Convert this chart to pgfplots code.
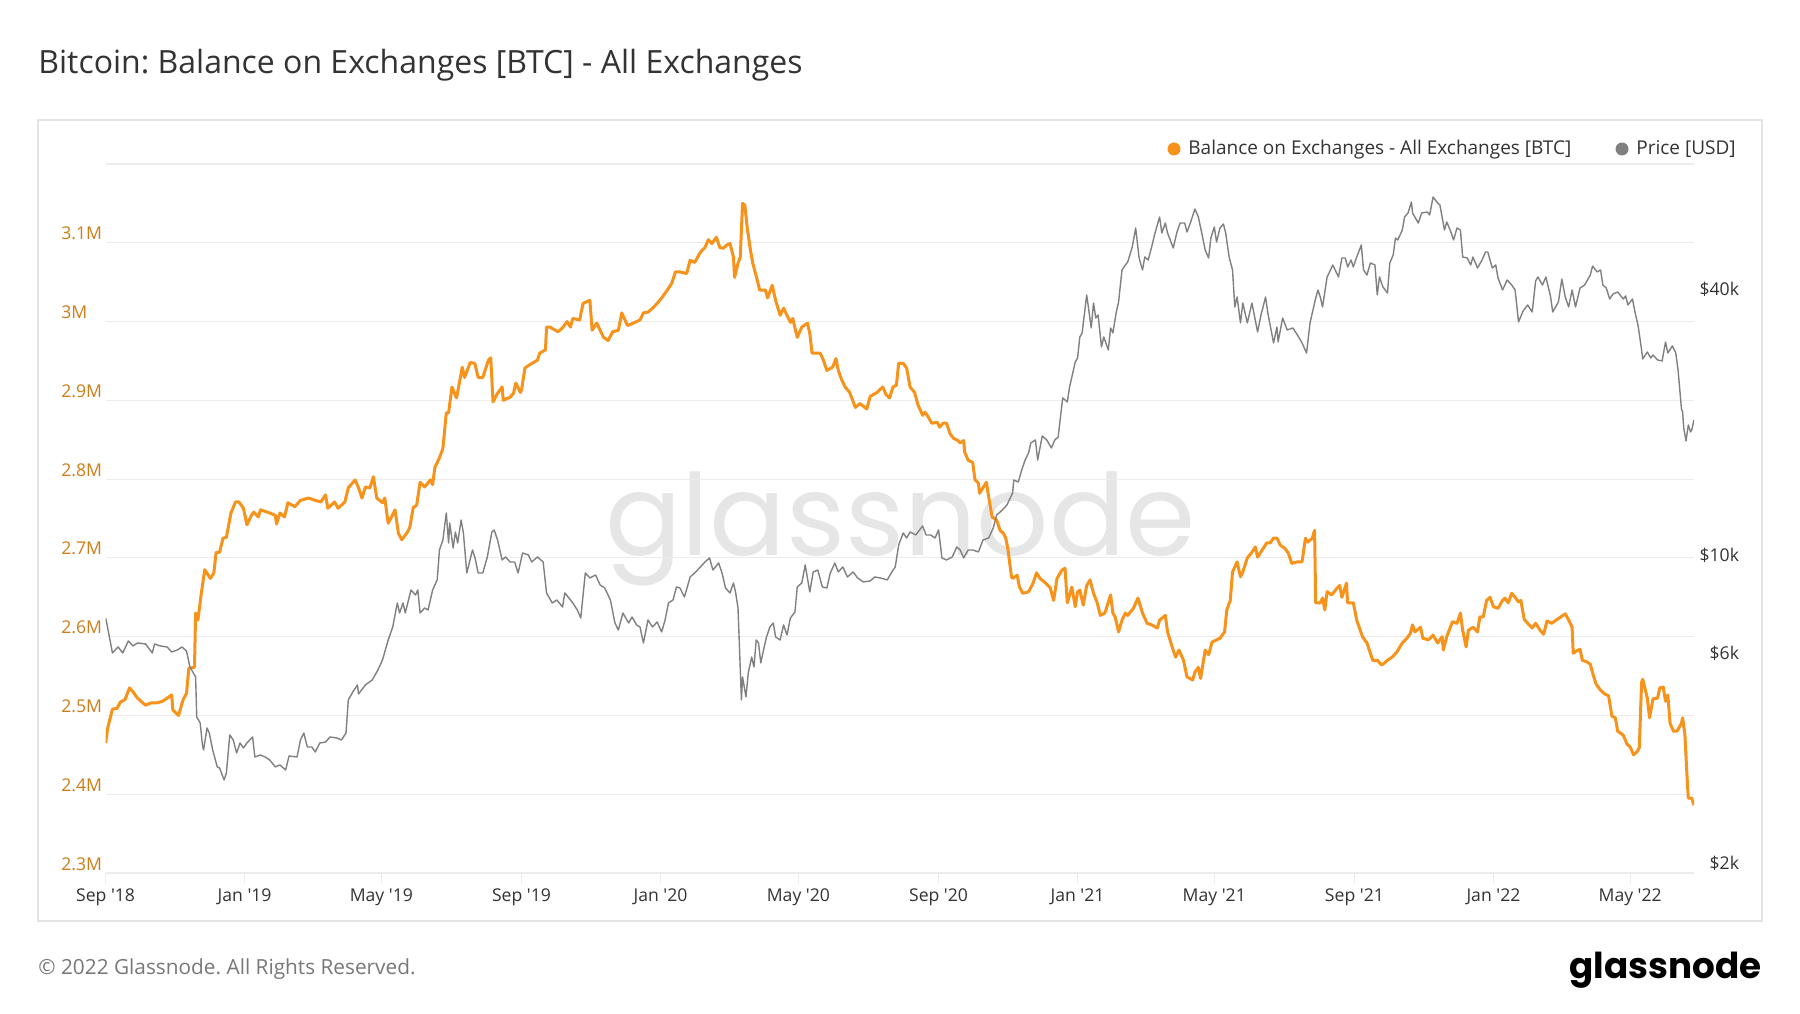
\documentclass[border=0pt]{standalone}
\usepackage{fontspec}
\setmainfont{Open Sans}
\newfontfamily\logofont{Poppins}
\usepackage{pgfplots}
\pgfplotsset{compat=1.18}
\frenchspacing
\definecolor{btc}{RGB}{247,147,26}
\definecolor{pricegray}{RGB}{128,128,128}
\definecolor{gridc}{RGB}{236,236,236}
\definecolor{framec}{RGB}{228,228,228}
\definecolor{lefttick}{RGB}{207,125,25}
\definecolor{txt}{RGB}{51,51,51}
\definecolor{foot}{RGB}{120,120,120}
\definecolor{wmark}{RGB}{230,230,230}
\begin{document}
\begin{tikzpicture}
\begin{scope}[x=0.5pt,y=0.5pt]
\path[use as bounding box, fill=white] (0,0) rectangle (1800,1013);
\draw[framec, line width=0.8pt] (38,92) rectangle (1762,893);
\node[anchor=base west, inner sep=0pt, text=wmark] at (605,458) {\resizebox{295pt}{!}{\logofont glassnode}};
\end{scope}
\begin{axis}[
  at={(52.8pt,70pt)}, anchor=south west,
  scale only axis, width=794.2pt, height=354.5pt,
  xmin=0, xmax=1394, ymin=2.3, ymax=3.2,
  axis line style={draw=none},
  ytick={2.3,2.4,2.5,2.6,2.7,2.8,2.9,3.0,3.1,3.2},
  yticklabels={2.3M,2.4M,2.5M,2.6M,2.7M,2.8M,2.9M,3M,3.1M,{}},
  ymajorgrids, grid style={gridc, line width=0.6pt},
  xtick={0,122,242,365,487,608,731,853,973,1096,1218,1338},
  xticklabels={Sep \textquotesingle18, Jan \textquotesingle19, May \textquotesingle19, Sep \textquotesingle19, Jan \textquotesingle20, May \textquotesingle20, Sep \textquotesingle20, Jan \textquotesingle21, May \textquotesingle21, Sep \textquotesingle21, Jan \textquotesingle22, May \textquotesingle22},
  xtick pos=bottom, ytick pos=left,
  tick align=outside, major tick length=5pt,
  xtick style={draw=gridc, line width=0.6pt},
  ytick style={draw=none},
  tick label style={font=\fontsize{8.8}{10}\selectfont},
  yticklabel style={anchor=base west, inner sep=0pt, xshift=-17.3pt, yshift=1.5pt, text=lefttick},
  xticklabel style={anchor=base, inner sep=0pt, yshift=-9.2pt, text=txt},
]
\addplot[btc, line width=1.5pt, line join=round] coordinates {
(0,2.465)(2,2.485)(6,2.508)(10,2.509)(13,2.517)(17,2.520)(21,2.535)(24,2.530)(28,2.522)(35,2.513)(40,2.516)(45,2.516)(50,2.518)(58,2.526)(59,2.507)(64,2.500)(68,2.520)(71,2.528)(73,2.560)(78,2.561)(79,2.630)(81,2.621)(84,2.655)(87,2.685)(92,2.674)(95,2.681)(97,2.707)(100,2.707)(103,2.725)(106,2.726)(110,2.757)(114,2.771)(117,2.771)(121,2.763)(124,2.742)(128,2.754)(130,2.758)(134,2.752)(136,2.761)(144,2.757)(149,2.754)(150,2.743)(153,2.757)(157,2.752)(160,2.770)(166,2.765)(171,2.773)(178,2.776)(184,2.773)(189,2.771)(193,2.780)(195,2.763)(201,2.771)(204,2.763)(210,2.771)(213,2.789)(219,2.799)(222,2.789)(225,2.776)(228,2.790)(232,2.789)(235,2.803)(238,2.776)(243,2.770)(245,2.776)(248,2.744)(251,2.752)(254,2.761)(257,2.731)(260,2.723)(265,2.733)(267,2.739)(270,2.764)(273,2.767)(276,2.796)(280,2.790)(285,2.799)(287,2.793)(289,2.815)(293,2.827)(296,2.839)(299,2.884)(301,2.884)(304,2.917)(308,2.903)(313,2.942)(315,2.929)(320,2.948)(324,2.947)(327,2.929)(331,2.929)(336,2.951)(338,2.954)(340,2.898)(344,2.909)(348,2.917)(349,2.900)(355,2.904)(358,2.909)(360,2.922)(364,2.910)(365,2.913)(368,2.941)(372,2.945)(379,2.951)(381,2.960)(386,2.964)(387,2.993)(390,2.993)(397,2.987)(401,2.992)(405,3.000)(408,2.993)(410,3.004)(416,3.002)(419,3.023)(425,3.027)(427,2.989)(431,2.998)(437,2.980)(441,2.976)(445,2.987)(450,2.989)(453,3.011)(458,2.995)(463,2.998)(469,3.002)(472,3.011)(476,3.012)(480,3.017)(484,3.023)(488,3.030)(493,3.040)(497,3.049)(500,3.063)(504,3.063)(510,3.061)(513,3.078)(517,3.075)(522,3.088)(526,3.094)(529,3.104)(532,3.099)(536,3.107)(539,3.094)(542,3.093)(545,3.097)(548,3.099)(551,3.082)(552,3.056)(555,3.074)(557,3.082)(559,3.150)(561,3.148)(563,3.120)(566,3.090)(568,3.074)(572,3.052)(574,3.040)(579,3.040)(581,3.030)(585,3.046)(588,3.027)(592,3.008)(595,3.017)(601,2.999)(603,3.004)(607,2.980)(611,2.993)(616,2.998)(618,2.985)(620,2.960)(627,2.960)(630,2.951)(633,2.938)(638,2.942)(641,2.953)(643,2.938)(646,2.926)(649,2.917)(653,2.910)(658,2.891)(662,2.896)(668,2.889)(671,2.905)(677,2.910)(682,2.917)(685,2.907)(688,2.903)(691,2.917)(694,2.919)(696,2.947)(700,2.947)(703,2.941)(706,2.917)(710,2.910)(713,2.894)(717,2.881)(719,2.885)(722,2.879)(725,2.871)(730,2.872)(732,2.866)(735,2.871)(738,2.871)(741,2.858)(744,2.852)(748,2.849)(750,2.846)(753,2.849)(754,2.834)(757,2.824)(761,2.821)(763,2.799)(766,2.795)(767,2.782)(773,2.796)(774,2.786)(778,2.752)(782,2.748)(785,2.735)(788,2.731)(790,2.725)(792,2.710)(795,2.676)(796,2.674)(800,2.678)(802,2.663)(805,2.655)(810,2.657)(814,2.668)(817,2.681)(820,2.674)(825,2.668)(829,2.662)(832,2.646)(835,2.674)(839,2.684)(842,2.687)(844,2.643)(848,2.663)(851,2.638)(853,2.657)(855,2.659)(858,2.640)(861,2.665)(864,2.672)(867,2.655)(870,2.644)(873,2.627)(877,2.630)(882,2.653)(884,2.630)(886,2.625)(889,2.606)(892,2.621)(895,2.630)(897,2.627)(902,2.636)(906,2.649)(910,2.630)(914,2.617)(918,2.615)(923,2.611)(925,2.621)(930,2.627)(932,2.606)(936,2.587)(939,2.574)(942,2.583)(946,2.570)(949,2.549)(954,2.545)(956,2.555)(959,2.561)(961,2.547)(965,2.583)(968,2.577)(971,2.593)(975,2.596)(978,2.598)(982,2.606)(984,2.634)(987,2.646)(989,2.682)(993,2.695)(996,2.676)(998,2.682)(1002,2.700)(1006,2.707)(1009,2.714)(1011,2.701)(1015,2.710)(1019,2.719)(1022,2.719)(1025,2.725)(1028,2.725)(1031,2.716)(1035,2.712)(1038,2.706)(1041,2.693)(1046,2.695)(1050,2.695)(1053,2.725)(1055,2.720)(1059,2.725)(1061,2.735)(1062,2.643)(1066,2.643)(1068,2.649)(1070,2.634)(1072,2.657)(1076,2.653)(1081,2.662)(1083,2.665)(1085,2.650)(1089,2.668)(1090,2.643)(1095,2.643)(1098,2.621)(1103,2.600)(1107,2.592)(1112,2.570)(1116,2.570)(1120,2.564)(1125,2.570)(1129,2.574)(1133,2.580)(1138,2.592)(1142,2.598)(1145,2.604)(1147,2.615)(1149,2.606)(1154,2.612)(1156,2.598)(1161,2.596)(1165,2.602)(1169,2.592)(1173,2.600)(1174,2.583)(1177,2.600)(1182,2.619)(1186,2.617)(1189,2.630)(1191,2.608)(1194,2.587)(1196,2.608)(1200,2.612)(1204,2.606)(1206,2.625)(1209,2.625)(1212,2.646)(1215,2.650)(1218,2.638)(1222,2.636)(1226,2.646)(1228,2.649)(1231,2.643)(1234,2.655)(1237,2.650)(1240,2.644)(1242,2.646)(1245,2.622)(1248,2.617)(1252,2.611)(1255,2.617)(1259,2.608)(1262,2.603)(1265,2.620)(1269,2.617)(1274,2.622)(1278,2.626)(1281,2.629)(1284,2.621)(1287,2.612)(1288,2.579)(1291,2.582)(1294,2.584)(1296,2.570)(1300,2.568)(1303,2.565)(1305,2.554)(1308,2.540)(1312,2.532)(1316,2.527)(1319,2.525)(1322,2.499)(1325,2.497)(1327,2.480)(1332,2.475)(1335,2.464)(1338,2.460)(1341,2.450)(1344,2.454)(1346,2.459)(1348,2.542)(1349,2.546)(1353,2.522)(1355,2.497)(1358,2.521)(1362,2.522)(1364,2.535)(1367,2.536)(1369,2.518)(1371,2.526)(1373,2.490)(1376,2.480)(1379,2.480)(1383,2.490)(1384,2.497)(1386,2.476)(1388,2.419)(1389,2.395)(1392,2.395)(1394,2.386)
};
\end{axis}
\begin{axis}[
  at={(52.8pt,70pt)}, anchor=south west,
  scale only axis, width=794.2pt, height=354.5pt,
  xmin=0, xmax=1394, ymode=log, ymin=2000, ymax=80500,
  axis x line=none, axis y line*=right,
  axis line style={draw=none},
  ytick={2000,6000,10000,40000},
  yticklabels={\$2k,\$6k,\$10k,\$40k},
  yminorticks=false, ytick style={draw=none},
  tick label style={font=\fontsize{8.8}{10}\selectfont},
  yticklabel style={anchor=base east, inner sep=0pt, xshift=22.7pt, yshift=1.5pt, text=txt},
]
\addplot[pricegray, line width=0.7pt, line join=round] coordinates {
(0,7555)(1,7361)(6,6296)(11,6495)(15,6296)(20,6702)(24,6529)(28,6632)(35,6598)(41,6296)(43,6598)(48,6529)(54,6495)(58,6329)(63,6395)(67,6495)(71,6362)(74,5852)(79,5555)(80,4509)(83,4371)(85,3897)(86,3797)(89,4259)(91,4148)(94,3797)(98,3476)(100,3458)(104,3247)(106,3368)(109,4106)(112,4000)(115,3738)(118,3938)(121,3837)(124,3938)(129,4063)(131,3661)(136,3699)(140,3661)(144,3605)(149,3476)(153,3512)(158,3421)(161,3680)(168,3661)(171,4000)(174,4148)(177,3857)(181,3857)(184,3758)(188,3938)(193,3958)(197,4063)(203,4042)(207,4000)(211,4148)(213,4928)(217,5138)(221,5328)(222,5085)(228,5328)(234,5469)(239,5762)(243,6070)(248,6737)(252,7209)(256,8169)(258,7755)(261,8169)(263,7755)(268,8742)(272,8517)(274,8742)(276,7755)(280,7959)(283,7877)(287,8742)(291,9210)(293,10768)(296,11343)(299,13057)(301,11167)(302,12394)(305,10880)(307,11827)(309,11167)(312,12590)(314,11765)(317,9551)(322,10768)(324,10382)(327,9551)(331,9551)(335,10382)(339,11827)(341,11951)(344,11343)(348,10221)(351,10382)(355,10115)(359,10115)(362,9551)(366,10601)(371,10491)(374,10115)(379,10382)(384,10115)(387,8606)(392,8169)(396,8298)(401,8000)(403,8606)(408,8298)(410,8169)(414,7877)(417,7555)(421,9551)(425,9306)(430,9452)(434,8973)(438,8834)(443,8298)(447,7361)(450,7097)(454,7755)(459,7361)(462,7595)(466,7285)(469,7209)(472,6632)(476,7477)(480,7209)(484,7399)(488,7023)(491,7477)(494,8169)(498,8298)(501,8880)(504,8834)(508,8428)(513,9354)(517,9551)(522,9855)(526,10115)(530,10328)(533,9702)(538,10062)(541,9551)(544,8834)(548,8606)(551,9067)(553,8606)(555,7959)(558,4928)(559,5555)(562,5006)(564,5672)(567,6166)(569,5852)(571,6737)(573,6632)(575,5976)(578,6495)(580,6843)(583,7209)(586,7361)(588,6843)(592,6737)(595,7285)(598,6914)(601,7555)(605,7795)(607,8880)(611,9067)(614,9958)(618,8651)(621,9601)(625,9702)(629,8880)(633,8834)(636,9551)(640,10062)(643,9601)(647,9855)(651,9354)(656,9601)(660,9306)(665,9114)(671,9162)(675,9354)(680,9306)(686,9210)(690,9601)(693,9855)(696,11051)(700,11765)(703,11463)(706,11827)(711,11643)(717,12202)(720,11643)(724,11643)(728,11463)(731,11951)(734,10328)(738,10221)(743,10382)(747,10936)(750,10768)(753,10328)(757,10768)(761,10768)(766,10656)(770,11343)(775,11463)(779,12076)(782,12922)(787,13263)(791,13615)(796,14491)(797,15507)(801,15346)(804,16339)(807,17213)(810,17850)(812,18808)(816,19105)(818,17213)(822,19505)(826,19105)(830,18324)(833,19105)(836,19403)(839,22689)(840,23779)(844,23289)(846,25184)(848,26528)(851,28691)(853,29290)(855,32680)(857,33369)(861,40672)(862,39014)(865,34246)(867,39014)(869,36074)(871,36644)(874,31018)(876,32680)(880,30538)(882,34246)(884,33369)(887,37220)(889,39218)(892,46333)(895,47552)(897,48301)(901,52222)(904,57665)(907,49311)(910,46333)(912,49568)(915,48808)(918,52222)(921,56171)(925,61066)(927,56171)(930,59187)(932,56171)(937,51950)(940,56171)(943,59187)(947,59187)(949,56465)(952,59187)(956,63667)(959,61066)(962,56171)(965,51412)(968,49311)(970,54727)(973,57965)(975,53601)(978,57665)(981,58880)(983,56171)(986,49568)(989,46333)(991,38209)(993,40249)(996,35150)(998,39014)(1002,35150)(1006,39014)(1011,33544)(1014,36644)(1018,40249)(1020,37026)(1025,31672)(1028,34425)(1029,31838)(1033,36074)(1037,33896)(1042,34246)(1047,32680)(1050,31672)(1054,30063)(1057,35150)(1062,40040)(1064,41746)(1066,40249)(1068,38209)(1072,44672)(1075,46333)(1077,47552)(1082,44672)(1085,49311)(1088,49311)(1090,47057)(1093,48808)(1095,47057)(1098,49568)(1102,52771)(1104,46333)(1107,45142)(1110,48050)(1114,47552)(1116,40672)(1118,44672)(1121,42397)(1125,41097)(1127,48050)(1130,50090)(1132,54727)(1134,54164)(1138,57058)(1140,61066)(1143,62353)(1146,66037)(1147,62353)(1152,59187)(1155,62353)(1160,62679)(1162,61708)(1165,67780)(1169,65693)(1171,65014)(1175,57058)(1177,59497)(1180,57058)(1183,54164)(1186,57665)(1189,57058)(1191,49568)(1195,49311)(1198,47552)(1200,49568)(1204,46813)(1208,48808)(1211,50878)(1213,50878)(1217,46813)(1220,47552)(1222,44440)(1226,41746)(1230,43974)(1234,42843)(1237,41746)(1240,35334)(1244,37417)(1248,38610)(1252,37220)(1255,43746)(1257,44672)(1261,42843)(1264,44672)(1268,40460)(1270,37220)(1275,39218)(1278,44207)(1281,40249)(1284,38209)(1287,41746)(1290,38209)(1294,42177)(1298,42843)(1303,45142)(1305,47304)(1309,45852)(1312,46333)(1314,42843)(1317,42177)(1320,39830)(1323,40883)(1327,41312)(1332,39830)(1334,40460)(1336,38610)(1340,39830)(1342,37417)(1345,34605)(1348,30538)(1349,29136)(1353,30221)(1356,29290)(1358,29752)(1362,28992)(1366,28842)(1369,31838)(1371,30063)(1375,31181)(1378,30063)(1380,27515)(1383,22453)(1384,22106)(1385,20334)(1387,19006)(1389,20655)(1391,19916)(1392,20125)(1394,21200)
};
\end{axis}
\begin{scope}[x=0.5pt,y=0.5pt]
\node[anchor=base west, inner sep=0pt, text=txt, font=\fontsize{16}{18}\selectfont] at (38,939) {Bitcoin: Balance on Exchanges [BTC] - All Exchanges};
\fill[btc] (1174,864) circle (6.5);
\node[anchor=base west, inner sep=0pt, text=txt, font=\fontsize{9.5}{11}\selectfont] at (1188,858) {Balance on Exchanges - All Exchanges [BTC]};
\fill[pricegray] (1622,864) circle (6.5);
\node[anchor=base west, inner sep=0pt, text=txt, font=\fontsize{9.5}{11}\selectfont] at (1636,858) {Price [USD]};
\node[anchor=base west, inner sep=0pt, text=foot, font=\fontsize{10.4}{12}\selectfont] at (38,39) {\textcopyright{} 2022 Glassnode. All Rights Reserved.};
\node[anchor=base east, inner sep=0pt, text=black] at (1762,35) {\resizebox{96pt}{!}{\logofont\bfseries glassnode}};
\end{scope}
\end{tikzpicture}
\end{document}
